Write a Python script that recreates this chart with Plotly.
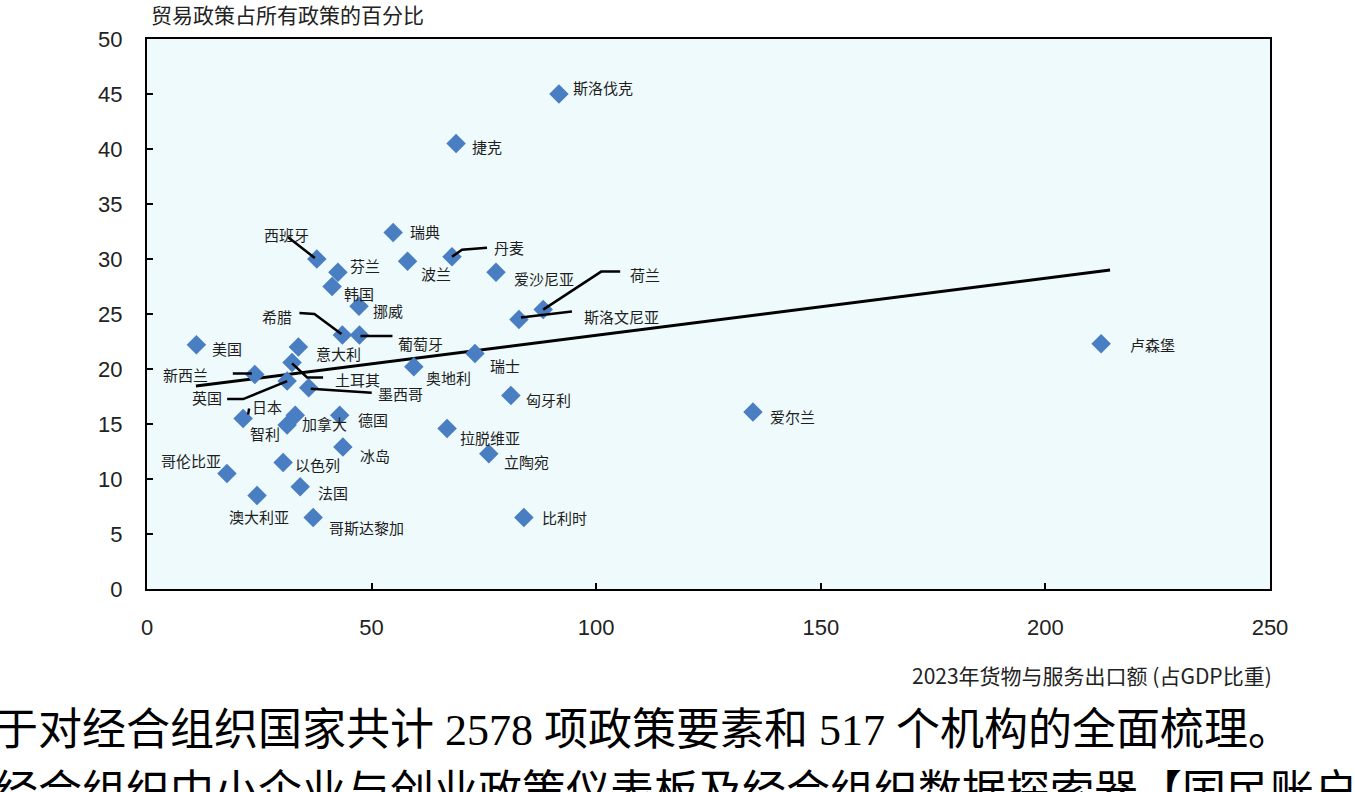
import plotly.graph_objects as go

# ---------------- data ----------------
countries = ["斯洛伐克", "捷克", "瑞典", "西班牙", "芬兰", "韩国", "挪威", "波兰", "丹麦",
             "爱沙尼亚", "荷兰", "斯洛文尼亚", "希腊", "葡萄牙", "美国", "意大利", "瑞士",
             "奥地利", "新西兰", "土耳其", "英国", "墨西哥", "日本", "匈牙利", "爱尔兰",
             "卢森堡", "智利", "加拿大", "德国", "拉脱维亚", "冰岛", "立陶宛", "哥伦比亚",
             "以色列", "法国", "澳大利亚", "哥斯达黎加", "比利时"]
exports_gdp = [91.7, 68.8, 54.8, 37.8, 42.5, 41.2, 47.2, 58.0, 67.9,
               77.7, 88.2, 82.8, 43.5, 47.3, 11.0, 33.7, 73.0,
               59.4, 24.0, 32.3, 31.2, 36.0, 21.4, 81.0, 134.9,
               212.4, 31.2, 33.0, 42.9, 66.8, 43.6, 76.1, 17.8,
               30.3, 34.1, 24.5, 37.0, 83.9]
trade_share = [45.0, 40.5, 32.4, 30.0, 28.8, 27.5, 25.7, 29.8, 30.2,
               28.8, 25.4, 24.5, 23.1, 23.1, 22.2, 22.0, 21.4,
               20.2, 19.5, 20.6, 18.9, 18.3, 15.5, 17.6, 16.1,
               22.3, 14.9, 15.8, 15.8, 14.6, 12.9, 12.3, 10.5,
               11.5, 9.3, 8.5, 6.5, 6.5]
trend_x = [10.9, 214.4]
trend_y = [18.45, 29.0]

y_title = "贸易政策占所有政策的百分比"
x_title = "2023年货物与服务出口额 (占GDP比重)"
x_ticks = [0, 50, 100, 150, 200, 250]
y_ticks = [0, 5, 10, 15, 20, 25, 30, 35, 40, 45, 50]
body_line1 = "于对经合组织国家共计 2578 项政策要素和 517 个机构的全面梳理。"
body_line2 = "经合组织中小企业与创业政策仪表板及经合组织数据探索器【国民账户"

# ---------------- label layout (pixel offsets; screen y down) ----------------
label_pos = {
    "斯洛伐克": ("left", 12, -7), "捷克": ("left", 14, 3), "瑞典": ("left", 15, -1),
    "西班牙": ("center", -30, -25), "芬兰": ("left", 10, -7), "韩国": ("left", 10, 7),
    "挪威": ("left", 12, 4), "波兰": ("left", 11, 12), "丹麦": ("left", 40, -9),
    "爱沙尼亚": ("left", 16, 6), "荷兰": ("left", 85, -35), "斯洛文尼亚": ("left", 63, -3),
    "希腊": ("center", -65, -18), "葡萄牙": ("left", 37, 9), "美国": ("left", 14, 4),
    "意大利": ("left", 16, 6), "瑞士": ("left", 13, 12), "奥地利": ("left", 10, 11),
    "新西兰": ("right", -45, 0), "土耳其": ("left", 41, 17), "英国": ("right", -63, 16),
    "墨西哥": ("left", 67, 6), "日本": ("left", 7, -12), "匈牙利": ("left", 13, 4),
    "爱尔兰": ("left", 15, 5), "卢森堡": ("left", 27, 1), "智利": ("right", -5, 8),
    "加拿大": ("left", 5, 8), "德国": ("left", 16, 4), "拉脱维亚": ("left", 11, 9),
    "冰岛": ("left", 15, 8), "立陶宛": ("left", 13, 8), "哥伦比亚": ("right", -4, -13),
    "以色列": ("left", 10, 2), "法国": ("left", 16, 6), "澳大利亚": ("center", 2, 21),
    "哥斯达黎加": ("left", 14, 10), "比利时": ("left", 16, 0),
}
leaders = {
    "西班牙": [(-29, -22), (-2, -1)],
    "希腊": [(-43, -22), (-28, -21), (-1, -1)],
    "葡萄牙": [(1, 1), (33, 1)],
    "新西兰": [(-22, -1), (-3, -1)],
    "土耳其": [(0, 1), (15, 15), (31, 15)],
    "英国": [(-60, 18), (-44, 18), (0, 0)],
    "墨西哥": [(2, 1), (63, 5)],
    "丹麦": [(0, 0), (10, -7), (35, -9)],
    "荷兰": [(0, 0), (58, -38), (77, -38)],
    "斯洛文尼亚": [(2, -2), (53, -8)],
    "日本": [(6, -10), (5, -4)],
}

fig = go.Figure()

fig.add_trace(go.Scatter(
    x=trend_x, y=trend_y, mode="lines",
    line=dict(color="black", width=3), hoverinfo="skip", showlegend=False))

fig.add_trace(go.Scatter(
    x=exports_gdp, y=trade_share, mode="markers", text=countries,
    marker=dict(symbol="diamond", size=15, color="#4A7EC2", line=dict(width=0)),
    showlegend=False))

annotations = []
shapes = []
for name, xv, yv in zip(countries, exports_gdp, trade_share):
    anchor, dx, dy = label_pos[name]
    annotations.append(dict(
        x=xv, y=yv, xref="x", yref="y", text=name, showarrow=False,
        xanchor=anchor, yanchor="middle", xshift=dx, yshift=-dy,
        font=dict(family="Noto Sans CJK SC", size=15, color="#1e1e1e")))
    if name in leaders:
        pts = leaders[name]
        path = "M " + " L ".join(f"{px},{-py}" for px, py in pts)
        shapes.append(dict(
            type="path", xref="x", yref="y", xsizemode="pixel", ysizemode="pixel",
            xanchor=xv, yanchor=yv, path=path,
            line=dict(color="black", width=2.5), layer="above"))

annotations.append(dict(
    x=0, y=1, xref="paper", yref="paper", text=y_title, showarrow=False,
    xanchor="left", yanchor="middle", xshift=2, yshift=25,
    font=dict(family="Noto Sans CJK SC", size=21, color="#222")))
annotations.append(dict(
    x=1, y=0, xref="paper", yref="paper", text=x_title, showarrow=False,
    xanchor="right", yanchor="middle", xshift=4, yshift=-86,
    font=dict(family="Noto Sans CJK SC", size=21, color="#222")))
annotations.append(dict(
    x=0, y=0, xref="paper", yref="paper", text=body_line1, showarrow=False,
    xanchor="left", yanchor="middle", xshift=-147 - 8, yshift=-141,
    font=dict(family="Liberation Serif, Noto Sans CJK SC", size=44, color="black")))
annotations.append(dict(
    x=0, y=0, xref="paper", yref="paper", text=body_line2, showarrow=False,
    xanchor="left", yanchor="middle", xshift=-147 - 8, yshift=-203,
    font=dict(family="Liberation Serif, Noto Sans CJK SC", size=44, color="black")))

fig.update_layout(
    width=1355, height=792,
    margin=dict(l=147, r=85, t=39, b=203),
    paper_bgcolor="white", plot_bgcolor="#EEFAFC",
    annotations=annotations, shapes=shapes,
    xaxis=dict(range=[0, 250], tickvals=x_ticks, showgrid=False, zeroline=False,
               showline=True, mirror=True, linecolor="black", linewidth=2,
               ticks="inside", ticklen=6, tickcolor="black", tickwidth=1.5,
               ticklabelstandoff=18,
               tickfont=dict(family="Liberation Sans", size=22, color="#222")),
    yaxis=dict(range=[0, 50], tickvals=y_ticks, showgrid=False, zeroline=False,
               showline=True, mirror=True, linecolor="black", linewidth=2,
               ticks="inside", ticklen=6, tickcolor="black", tickwidth=1.5,
               ticklabelstandoff=18,
               tickfont=dict(family="Liberation Sans", size=22, color="#222")),
)

fig.write_html("out.html")
